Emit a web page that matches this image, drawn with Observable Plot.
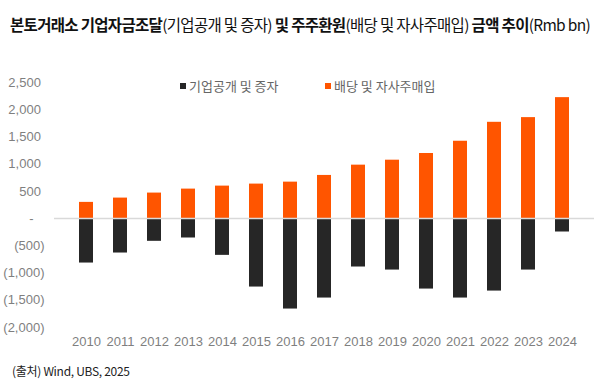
<!DOCTYPE html>
<html><head><meta charset="utf-8">
<script src="https://cdn.jsdelivr.net/npm/d3@7"></script>
<script src="https://cdn.jsdelivr.net/npm/@observablehq/plot@0.6"></script>
<style>
body{margin:0;background:#fff;}
#wrap{position:relative;width:602px;height:387px;overflow:hidden;font-family:"Noto Sans CJK KR","Noto Sans",sans-serif;}
#title{position:absolute;left:10px;top:15px;font-size:15.5px;line-height:18px;color:#111;white-space:nowrap;}
#title b{font-weight:700;}
#title span{font-weight:400;}
#chart{position:absolute;left:0;top:40px;}
.leg{position:absolute;top:78px;font-size:13px;line-height:16px;color:#666;white-space:nowrap;}
.leg i{display:inline-block;width:6px;height:6px;margin-right:3px;vertical-align:2px;}
#src{position:absolute;left:12px;top:363px;font-size:12px;line-height:16px;color:#222;white-space:nowrap;letter-spacing:-0.3px;}
</style></head>
<body>
<div id="wrap">
  <div id="title"><b>본토거래소 기업자금조달</b><span>(기업공개 및 증자)</span><b> 및 주주환원</b><span>(배당 및 자사주매입)</span><b> 금액 추이</b><span>(Rmb bn)</span></div>
  <div id="chart"></div>
  <div class="leg" id="leg1" style="left:180px"><i style="background:#262626"></i>기업공개 및 증자</div>
  <div class="leg" id="leg2" style="left:325px"><i style="background:#FF5500"></i>배당 및 자사주매입</div>
  <div id="src">(출처) Wind, UBS, 2025</div>
</div>
<script>
const years = ["2010","2011","2012","2013","2014","2015","2016","2017","2018","2019","2020","2021","2022","2023","2024"];
const raising = [-816,-632,-417,-356,-675,-1257,-1661,-1459,-889,-945,-1294,-1459,-1331,-945,-246];
const returns = [298,377,469,542,597,634,670,793,982,1073,1196,1421,1769,1855,2222];
const yTicks = [-2000,-1500,-1000,-500,0,500,1000,1500,2000,2500];
const seriesNames = ["기업공개 및 증자","배당 및 자사주매입"];
const colors = ["#262626","#FF5500"];

const negData = years.map((y,i)=>({year:y,value:raising[i]}));
const posData = years.map((y,i)=>({year:y,value:returns[i]}));

const fmt = v => v === 0 ? "-\u00a0\u00a0\u00a0" : v < 0 ? "(" + d3.format(",")(-v) + ")" : d3.format(",")(v) + "\u00a0";

const chart = Plot.plot({
  width: 602,
  height: 330,
  marginTop: 42,
  marginBottom: 43,
  marginLeft: 54,
  marginRight: 8,
  style: {fontFamily: "'Liberation Sans', Arial, sans-serif", fontSize: "13px", color: "#7f7f7f", background: "#fff"},
  x: {domain: years, padding: 0.58, label: null, tickSize: 0, tickPadding: 9},
  y: {domain: [-2000, 2500], ticks: yTicks, tickFormat: fmt, label: null, tickSize: 0, tickPadding: 10},
  marks: [
    Plot.barY(posData, {x: "year", y: "value", fill: colors[1]}),
    Plot.barY(negData, {x: "year", y: "value", fill: colors[0]}),
    Plot.ruleY([0], {stroke: "#d9d9d9", strokeWidth: 1.5})
  ]
});
document.getElementById("chart").appendChild(chart);

// fit title to the reference width
const t = document.getElementById("title");
const target = 580;
const w = t.getBoundingClientRect().width;
const n = t.textContent.length;
t.style.letterSpacing = ((target - w) / n) + "px";
</script>
</body></html>
